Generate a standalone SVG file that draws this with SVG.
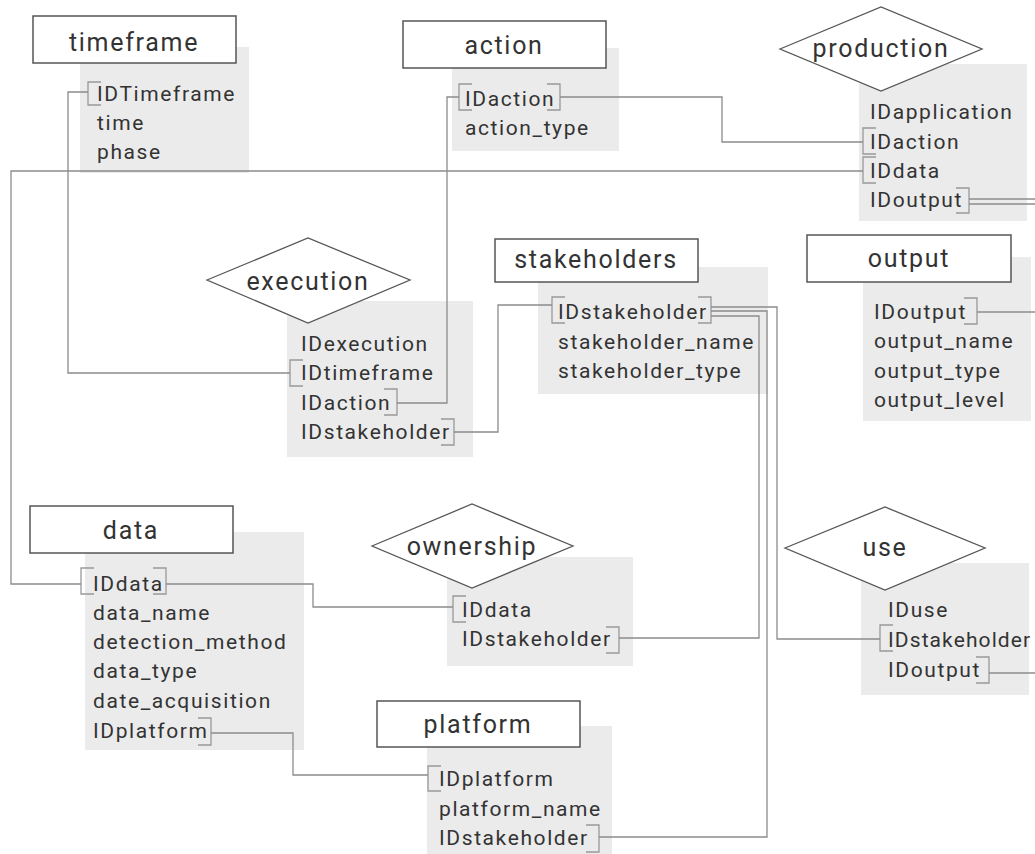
<svg xmlns="http://www.w3.org/2000/svg" width="1035" height="854" viewBox="0 0 1035 854">
<style>
.panel{fill:#ebebeb;stroke:none}
.title{fill:#fff;stroke:#555;stroke-width:1.5}
.dia{fill:#fff;stroke:#555;stroke-width:1.3}
.tt{font-family:Roboto,"Liberation Sans",sans-serif;font-size:25px;fill:#333;letter-spacing:1.7px;text-anchor:middle}
.at{font-family:Roboto,"Liberation Sans",sans-serif;font-size:21px;fill:#333;letter-spacing:1.6px}
.br{fill:none;stroke:#999;stroke-width:1.3}
.cn{fill:none;stroke:#8c8c8c;stroke-width:1.3}
</style>
<rect width="1035" height="854" fill="#fff"/>

<g id="timeframe">
<rect class="panel" x="80" y="47" width="169" height="126"/>
<rect class="title" x="33" y="16" width="203" height="47"/>
<text class="tt" x="134" y="51">timeframe</text>
<text class="at" x="97" y="101">IDTimeframe</text>
<text class="at" x="97" y="130">time</text>
<text class="at" x="97" y="159">phase</text>
<path class="br" d="M101,82H88V105H101"/>
</g>

<g id="action">
<rect class="panel" x="452" y="48" width="167" height="103"/>
<rect class="title" x="403" y="21" width="203" height="47"/>
<text class="tt" x="504" y="54">action</text>
<text class="at" x="465" y="106">IDaction</text>
<text class="at" x="465" y="135">action_type</text>
<path class="br" d="M472,84H459V110H472"/>
<path class="br" d="M547,84H560V110H547"/>
</g>

<g id="production">
<rect class="panel" x="859" y="64" width="168" height="157"/>
<polygon class="dia" points="780,49 881,7 982,49 881,91"/>
<text class="tt" x="881" y="57">production</text>
<text class="at" x="870" y="119">IDapplication</text>
<text class="at" x="870" y="149">IDaction</text>
<text class="at" x="870" y="178">IDdata</text>
<text class="at" x="870" y="207">IDoutput</text>
<path class="br" d="M876,128H863V154H876"/>
<path class="br" d="M876,157H863V183H876"/>
<path class="br" d="M956,188H969V213H956"/>
</g>

<g id="execution">
<rect class="panel" x="287" y="301" width="186" height="156"/>
<polygon class="dia" points="207,280 308,238 410,280 308,323"/>
<text class="tt" x="308" y="290">execution</text>
<text class="at" x="301" y="351">IDexecution</text>
<text class="at" x="301" y="380">IDtimeframe</text>
<text class="at" x="301" y="410">IDaction</text>
<text class="at" x="301" y="439">IDstakeholder</text>
<path class="br" d="M303,360H290V386H303"/>
<path class="br" d="M384,389H397V415H384"/>
<path class="br" d="M441,419H454V445H441"/>
</g>

<g id="stakeholders">
<rect class="panel" x="538" y="267" width="230" height="127"/>
<rect class="title" x="495" y="239" width="203" height="43"/>
<text class="tt" x="596" y="268">stakeholders</text>
<text class="at" x="558" y="319">IDstakeholder</text>
<text class="at" x="558" y="349">stakeholder_name</text>
<text class="at" x="558" y="378">stakeholder_type</text>
<path class="br" d="M565,297H552V323H565"/>
<path class="br" d="M698,297H711V323H698"/>
</g>

<g id="output">
<rect class="panel" x="863" y="257" width="168" height="164"/>
<rect class="title" x="807" y="235" width="204" height="47"/>
<text class="tt" x="909" y="267">output</text>
<text class="at" x="874" y="319">IDoutput</text>
<text class="at" x="874" y="348">output_name</text>
<text class="at" x="874" y="378">output_type</text>
<text class="at" x="874" y="407">output_level</text>
<path class="br" d="M964,298H977V324H964"/>
</g>

<g id="use">
<rect class="panel" x="861" y="563" width="168" height="132"/>
<polygon class="dia" points="785,548 885,507 985,548 885,590"/>
<text class="tt" x="885" y="556">use</text>
<text class="at" x="888" y="617">IDuse</text>
<text class="at" x="888" y="647" style="letter-spacing:1.1px">IDstakeholder</text>
<text class="at" x="888" y="677">IDoutput</text>
<path class="br" d="M893,625H880V651H893"/>
<path class="br" d="M976,657H989V683H976"/>
</g>

<g id="data">
<rect class="panel" x="85" y="532" width="219" height="218"/>
<rect class="title" x="30" y="506" width="203" height="47"/>
<text class="tt" x="131" y="539">data</text>
<text class="at" x="93" y="591">IDdata</text>
<text class="at" x="93" y="620">data_name</text>
<text class="at" x="93" y="649">detection_method</text>
<text class="at" x="93" y="678">data_type</text>
<text class="at" x="93" y="708">date_acquisition</text>
<text class="at" x="93" y="738">IDplatform</text>
<path class="br" d="M94,568H81V594H94"/>
<path class="br" d="M153,568H166V594H153"/>
<path class="br" d="M198,718H211V745H198"/>
</g>

<g id="ownership">
<rect class="panel" x="447" y="557" width="186" height="109"/>
<polygon class="dia" points="372,546 472,504 573,546 472,588"/>
<text class="tt" x="472" y="555">ownership</text>
<text class="at" x="462" y="617">IDdata</text>
<text class="at" x="462" y="646">IDstakeholder</text>
<path class="br" d="M466,596H453V622H466"/>
<path class="br" d="M606,627H619V653H606"/>
</g>

<g id="platform">
<rect class="panel" x="427" y="726" width="185" height="128"/>
<rect class="title" x="377" y="701" width="203" height="46"/>
<text class="tt" x="478" y="733">platform</text>
<text class="at" x="439" y="786">IDplatform</text>
<text class="at" x="439" y="816">platform_name</text>
<text class="at" x="439" y="845">IDstakeholder</text>
<path class="br" d="M441,766H428V791H441"/>
<path class="br" d="M586,825H599V852H586"/>
</g>

<g id="connectors">
<polyline class="cn" points="88,92 68,92 68,373 290,373"/>
<polyline class="cn" points="81,584 11,584 11,171 863,171"/>
<polyline class="cn" points="560,97 722,97 722,142 863,142"/>
<polyline class="cn" points="459,97 447,97 447,403 397,403"/>
<polyline class="cn" points="454,432 498,432 498,305 552,305"/>
<polyline class="cn" points="711,307 777,307 777,639 880,639"/>
<polyline class="cn" points="711,311 767,311 767,837 599,837"/>
<polyline class="cn" points="711,316 759,316 759,638 619,638"/>
<polyline class="cn" points="166,584 313,584 313,607 453,607"/>
<polyline class="cn" points="211,733 293,733 293,775 428,775"/>
<polyline class="cn" points="969,199 1035,199"/>
<polyline class="cn" points="969,204 1035,204"/>
<polyline class="cn" points="977,312 1035,312"/>
<polyline class="cn" points="989,673 1035,673"/>
</g>
</svg>
